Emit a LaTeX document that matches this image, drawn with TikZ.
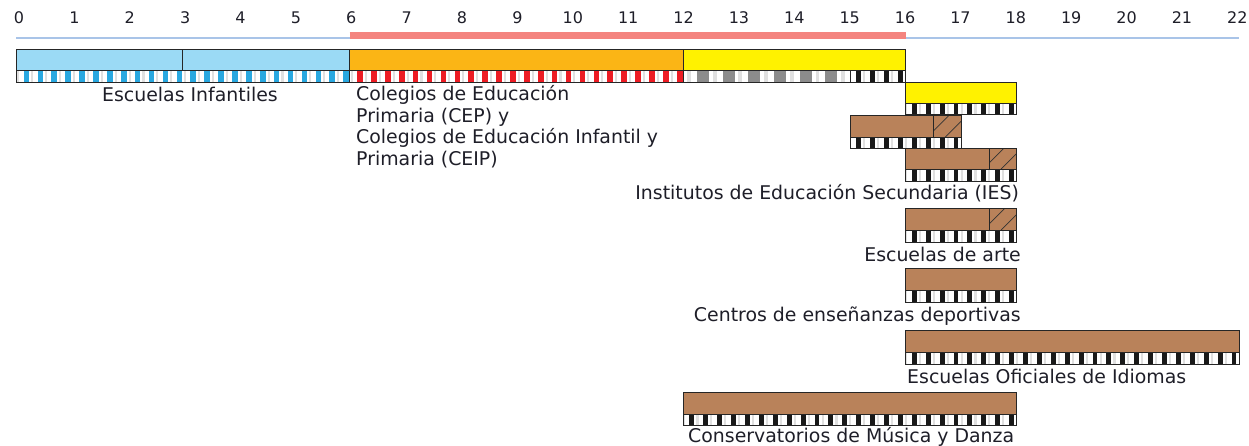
\documentclass[tikz,border=0pt]{standalone}
\usepackage{fontspec}
\setmainfont{DejaVu Sans}
\definecolor{lblue}{HTML}{9BDAF5}
\definecolor{sblue}{HTML}{29A8E0}
\definecolor{orng}{HTML}{FBB515}
\definecolor{yell}{HTML}{FFF200}
\definecolor{brwn}{HTML}{B9825A}
\definecolor{sred}{HTML}{ED1C24}
\definecolor{sgray}{HTML}{8C8C8C}
\definecolor{axblue}{HTML}{A9C4E8}
\definecolor{axred}{HTML}{F4847F}
\definecolor{txt}{HTML}{1E1E28}
\tikzset{
  barline/.style={draw=black!85, line width=0.9pt},
  hatchline/.style={draw=black!80, line width=0.7pt},
  lbl/.style={font=\fontsize{18.9}{21.3}\selectfont, text=txt, inner sep=0pt, text height=13pt, text depth=3pt},
  ticklbl/.style={font=\fontsize{16}{18}\selectfont, text=txt, inner sep=0pt},
}
% x position of a unit value
\newcommand\ux[1]{16+55.6*(#1)}
% striped segment: u1 u2 ytop ybot period colour a b
\newcommand\stripeseg[8]{%
  \pgfmathsetmacro\sxa{\ux{#1}}%
  \pgfmathsetmacro\sxb{\ux{#2}}%
  \pgfmathsetmacro\snk{int((\sxb-\sxa)/#5)+1}%
  \begin{scope}
    \clip (\sxa,#3) rectangle (\sxb,#4);
    \fill[white] (\sxa,#3) rectangle (\sxb,#4);
    \foreach \k in {-1,...,\snk}{
      \fill[#6] ({\sxa+(\k+#7)*#5},#3) rectangle ({\sxa+(\k+#8)*#5},#4);
      \fill[black!12] ({\sxa+(\k+#8+0.15)*#5},#3) rectangle ({\sxa+(\k+#8+0.3)*#5},#4);
    }
  \end{scope}
  \draw[barline] (\sxa,#3) rectangle (\sxb,#4);
}
% filled segment: u1 u2 ytop ybot colour
\newcommand\fillseg[5]{%
  \draw[barline, fill=#5] ({\ux{#1}},#3) rectangle ({\ux{#2}},#4);
}
% hatched segment: u1 u2 ytop ybot
\newcommand\hatchseg[4]{%
  \begin{scope}
    \clip ({\ux{#1}},#3) rectangle ({\ux{#2}},#4);
    \foreach \c in {-6,12,30}{
      \draw[hatchline] ({\ux{#1}+\c},#4) -- ++(30,-30);
    }
  \end{scope}
  \draw[barline] ({\ux{#1}},#3) rectangle ({\ux{#2}},#4);
}
\begin{document}
\begin{tikzpicture}[x=1pt,y=-1pt]
\useasboundingbox (0,0) rectangle (1249,445);
% axis
\foreach \i in {0,...,22}{
  \node[ticklbl] (t\i) at ({19+55.38*\i},18) {\i};
}
\draw[axblue, line width=2pt] (16,37.5) -- (1239,37.5);
\draw[axred, line width=7pt] ({\ux{6}},35.5) -- ({\ux{16}},35.5);
% main bar
\fillseg{0}{3}{49}{70}{lblue}
\fillseg{3}{6}{49}{70}{lblue}
\fillseg{6}{12}{49}{70}{orng}
\fillseg{12}{16}{49}{70}{yell}
\stripeseg{0}{6}{70}{82}{13.9}{sblue}{0.55}{0.95}
\stripeseg{6}{12}{70}{82}{13.9}{sred}{0.55}{0.95}
\stripeseg{12}{15}{70}{82}{25.7}{sgray}{0.53}{1.0}
\stripeseg{15}{16}{70}{82}{13.9}{black!90}{0.45}{0.8}
% row A
\fillseg{16}{18}{82}{103}{yell}
\stripeseg{16}{18}{103}{114}{13.9}{black!90}{0.45}{0.8}
% row B
\fillseg{15}{17}{115}{137}{brwn}
\hatchseg{16.5}{17}{115}{137}
\stripeseg{15}{17}{137}{148}{13.9}{black!90}{0.45}{0.8}
% row C
\fillseg{16}{18}{148}{169}{brwn}
\hatchseg{17.5}{18}{148}{169}
\stripeseg{16}{18}{169}{181}{13.9}{black!90}{0.45}{0.8}
% row D
\fillseg{16}{18}{208}{230}{brwn}
\hatchseg{17.5}{18}{208}{230}
\stripeseg{16}{18}{230}{242}{13.9}{black!90}{0.45}{0.8}
% row E
\fillseg{16}{18}{268}{290}{brwn}
\stripeseg{16}{18}{290}{302}{13.9}{black!90}{0.45}{0.8}
% row F
\fillseg{16}{22}{330}{352}{brwn}
\stripeseg{16}{22}{352}{364}{13.9}{black!90}{0.45}{0.8}
% row G
\fillseg{12}{18}{392}{414}{brwn}
\stripeseg{12}{18}{414}{425}{13.9}{black!90}{0.45}{0.8}
% labels
\node[lbl] (ei) at (190,96.5) {Escuelas Infantiles};
\node[lbl, anchor=west] (cep1) at (356,95.5) {Colegios de Educación};
\node[lbl, anchor=west] (cep2) at (356,117) {Primaria (CEP) y};
\node[lbl, anchor=west] (cep3) at (356,138.5) {Colegios de Educación Infantil y};
\node[lbl, anchor=west] (cep4) at (356,160) {Primaria (CEIP)};
\node[lbl, anchor=east] (ies) at (1019,194.5) {Institutos de Educación Secundaria (IES)};
\node[lbl, anchor=east] (arte) at (1021,256.5) {Escuelas de arte};
\node[lbl, anchor=east] (dep) at (1021,316.5) {Centros de enseñanzas deportivas};
\node[lbl, anchor=west] (eoi) at (907,378.5) {Escuelas Oficiales de Idiomas};
\node[lbl, anchor=west] (cons) at (688,437.5) {Conservatorios de Música y Danza};
\end{tikzpicture}
\end{document}
